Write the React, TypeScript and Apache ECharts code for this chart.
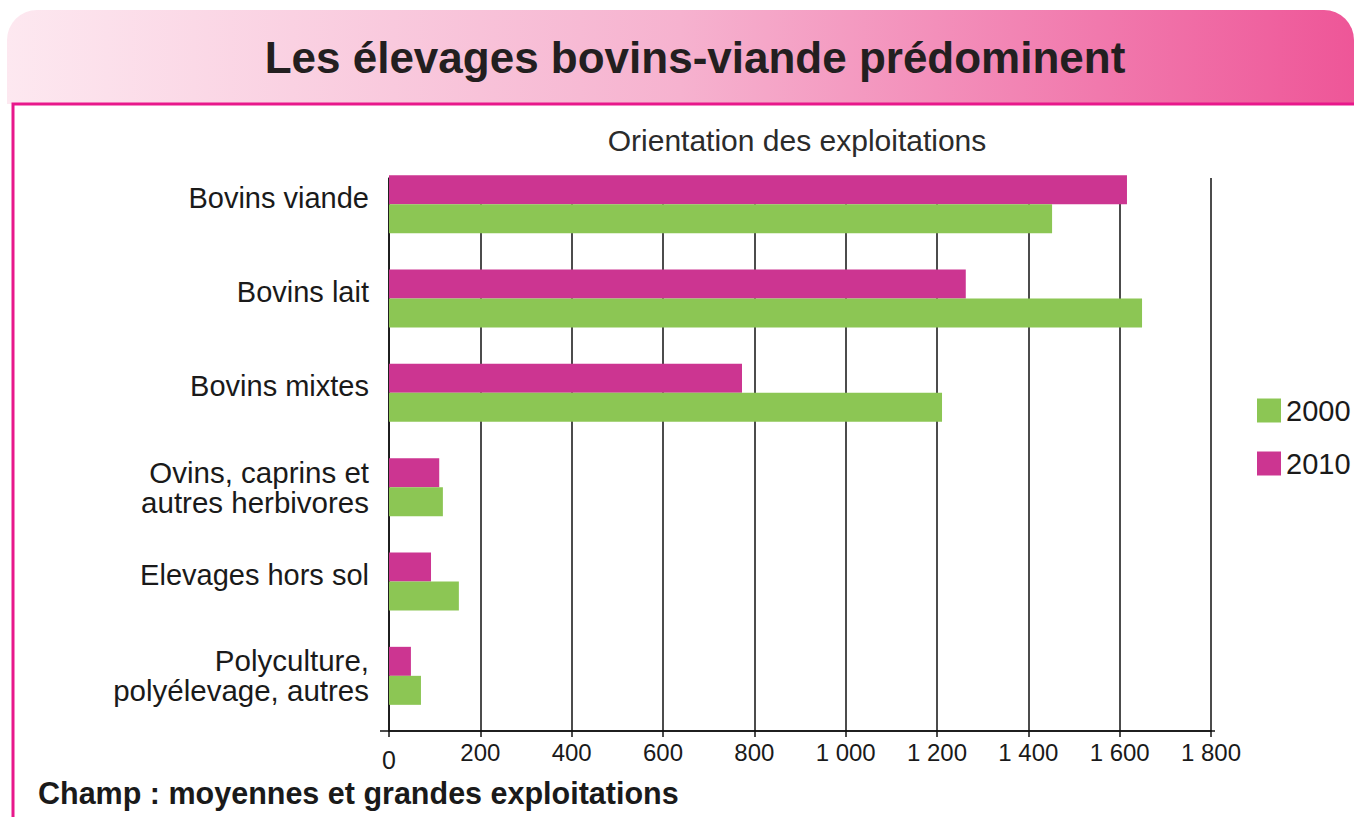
import React, { useEffect, useRef } from "react";
import * as echarts from "echarts";

const categories = [
  "Bovins viande",
  "Bovins lait",
  "Bovins mixtes",
  "Ovins, caprins et\nautres herbivores",
  "Elevages hors sol",
  "Polyculture,\npolyélevage, autres",
];
const values2010 = [1616, 1263, 773, 110, 92, 48];
const values2000 = [1452, 1649, 1211, 118, 153, 70];
const seriesNames = ["2000", "2010"];
const xMin = 0;
const xMax = 1800;
const xInterval = 200;

const FONT = "'Liberation Sans', Arial, sans-serif";
const GREEN = "#8cc654";
const MAGENTA = "#cc3591";

function fmt(v: number): string {
  if (v === 0) return "{z|0}";
  if (v >= 1000) {
    const th = Math.floor(v / 1000);
    const rest = String(v % 1000).padStart(3, "0");
    return th + " " + rest;
  }
  return String(v);
}

function catFmt(label: string): string {
  if (label.indexOf("\n") >= 0) {
    return label
      .split("\n")
      .map((l) => "{m|" + l + "}")
      .join("\n");
  }
  return "{s|" + label + "}";
}

export default function App() {
  const ref = useRef<HTMLDivElement>(null);
  useEffect(() => {
    if (!ref.current) return;
    const chart = echarts.init(ref.current, undefined, { renderer: "svg" });
    chart.setOption({
      animation: false,
      backgroundColor: "#ffffff",
      textStyle: { fontFamily: FONT },
      graphic: [
        {
          type: "rect",
          shape: { x: 7, y: 10, width: 1347, height: 94, r: [30, 30, 0, 0] },
          style: {
            fill: new echarts.graphic.LinearGradient(0, 0, 1, 0, [
              { offset: 0, color: "#fde8f0" },
              { offset: 0.5, color: "#f6b2cf" },
              { offset: 1, color: "#ee5698" },
            ]),
          },
          z: 0,
        },
        {
          type: "rect",
          shape: { x: 13, y: 104, width: 1400, height: 800 },
          style: { fill: "none", stroke: "#e8188b", lineWidth: 3 },
          z: 1,
        },
        {
          type: "text",
          x: 695,
          y: 57,
          style: {
            text: "Les élevages bovins-viande prédominent",
            font: "bold 44px " + FONT,
            fill: "#231f20",
            textAlign: "center",
            textVerticalAlign: "middle",
          },
          z: 2,
        },
        {
          type: "text",
          x: 797,
          y: 140,
          style: {
            text: "Orientation des exploitations",
            font: "30px " + FONT,
            fill: "#2b2b2b",
            textAlign: "center",
            textVerticalAlign: "middle",
          },
          z: 2,
        },
        {
          type: "text",
          x: 38,
          y: 793,
          style: {
            text: "Champ : moyennes et grandes exploitations",
            font: "bold 30.5px " + FONT,
            fill: "#1a1a1a",
            textAlign: "left",
            textVerticalAlign: "middle",
          },
          z: 2,
        },
        {
          type: "line",
          shape: { x1: 380, y1: 731, x2: 1215, y2: 731 },
          style: { stroke: "#111", lineWidth: 1.5 },
          z: 3,
        },
      ],
      legend: {
        data: seriesNames,
        orient: "vertical",
        left: 1257,
        top: 396,
        padding: 0,
        itemWidth: 24,
        itemHeight: 24,
        itemGap: 24,
        icon: "rect",
        textStyle: { fontSize: 29, color: "#1a1a1a", fontFamily: FONT },
      },
      grid: [
        { left: 389, top: 178, width: 822, height: 553, containLabel: false },
        { left: 389, top: 157, width: 822, height: 566, containLabel: false },
      ],
      xAxis: [
        {
          gridIndex: 0,
          type: "value",
          min: xMin,
          max: xMax,
          interval: xInterval,
          axisLine: { show: true, lineStyle: { color: "#111", width: 1.5 } },
          axisTick: { show: true, length: 6, lineStyle: { color: "#111", width: 1.5 } },
          axisLabel: {
            fontSize: 24,
            color: "#1a1a1a",
            margin: 9,
            fontFamily: FONT,
            formatter: (v: number) => fmt(v),
            rich: {
              z: {
                fontSize: 25,
                lineHeight: 28,
                color: "#1a1a1a",
                fontFamily: FONT,
                padding: [11, 0, 0, 0],
              },
            },
          },
          splitLine: { show: true, lineStyle: { color: "#111", width: 1.5 } },
        },
        {
          gridIndex: 1,
          type: "value",
          min: xMin,
          max: xMax,
          show: false,
        },
      ],
      yAxis: [
        {
          gridIndex: 0,
          type: "value",
          min: 0,
          max: 1,
          axisLine: { show: true, lineStyle: { color: "#111", width: 1.5 } },
          axisTick: { show: false },
          axisLabel: { show: false },
          splitLine: { show: false },
        },
        {
          gridIndex: 1,
          type: "category",
          inverse: true,
          data: categories,
          axisLine: { show: false },
          axisTick: { show: false },
          axisLabel: {
            fontSize: 29,
            color: "#1a1a1a",
            margin: 20,
            fontFamily: FONT,
            formatter: (v: string) => catFmt(v),
            rich: {
              s: {
                fontSize: 29,
                color: "#1a1a1a",
                fontFamily: FONT,
                lineHeight: 30,
                padding: [0, 0, 13, 0],
              },
              m: {
                fontSize: 29.5,
                color: "#1a1a1a",
                fontFamily: FONT,
                lineHeight: 30,
              },
            },
          },
        },
      ],
      series: [
        {
          name: "2010",
          type: "bar",
          xAxisIndex: 1,
          yAxisIndex: 1,
          data: values2010,
          barWidth: 29,
          barGap: "0%",
          itemStyle: { color: MAGENTA },
          z: 3,
        },
        {
          name: "2000",
          type: "bar",
          xAxisIndex: 1,
          yAxisIndex: 1,
          data: values2000,
          barWidth: 29,
          barGap: "0%",
          itemStyle: { color: GREEN },
          z: 3,
        },
      ],
    });
    return () => chart.dispose();
  }, []);
  return (
    <div
      ref={ref}
      style={{ position: "fixed", left: 0, top: 0, width: 1354, height: 817, background: "#fff" }}
    />
  );
}
